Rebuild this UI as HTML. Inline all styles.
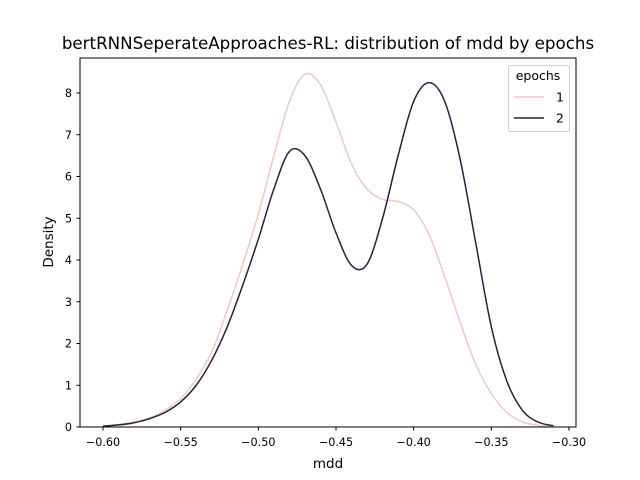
<!DOCTYPE html>
<html><head><meta charset="utf-8"><style>body{margin:0;background:#fff}svg{display:block;font-family:"DejaVu Sans","Liberation Sans",sans-serif}</style></head>
<body>
<svg id="chart" width="640" height="480">
<rect x="0" y="0" width="640" height="480" fill="#fff"/>
<text x="328" y="49" font-size="16.7" text-anchor="middle">bertRNNSeperateApproaches-RL: distribution of mdd by epochs</text>
<g id="ticks"></g>
<g id="series"></g>
<rect x="80" y="58" width="496" height="369" fill="none" stroke="#000" stroke-width="1"/>
<text x="328" y="468" font-size="13.5" text-anchor="middle">mdd</text>
<text x="0" y="0" font-size="13.5" text-anchor="middle" transform="translate(53,242) rotate(-90)">Density</text>
<g>
<rect x="508.5" y="65.5" width="61" height="66" rx="2" fill="#fff" fill-opacity="0.8" stroke="#ccc"/>
<text x="538" y="80" font-size="12.5" text-anchor="middle">epochs</text>
<line x1="514" y1="97" x2="544" y2="97" stroke="#ebcac6" stroke-width="1.5"/>
<text x="556" y="101.5" font-size="12.5">1</text>
<line x1="514" y1="118" x2="544" y2="118" stroke="#2d1e3e" stroke-width="1.5"/>
<text x="556" y="122.5" font-size="12.5">2</text>
</g>
</svg>
<script>
const xTicks = [-0.60,-0.55,-0.50,-0.45,-0.40,-0.35,-0.30];
const xTickLabels = ["−0.60","−0.55","−0.50","−0.45","−0.40","−0.35","−0.30"];
const yTicks = [0,1,2,3,4,5,6,7,8];
const xs1 = [-0.60,-0.59,-0.58,-0.57,-0.56,-0.55,-0.54,-0.53,-0.52,-0.51,-0.50,-0.49,-0.48,-0.47,-0.46,-0.45,-0.44,-0.43,-0.42,-0.41,-0.40,-0.39,-0.38,-0.37,-0.36,-0.35,-0.34,-0.33,-0.32,-0.31];
const ys1 = [0.02,0.06,0.12,0.22,0.4,0.68,1.15,1.8,2.8,3.9,5.1,6.5,7.8,8.45,8.2,7.3,6.3,5.7,5.45,5.4,5.2,4.6,3.6,2.5,1.5,0.8,0.35,0.12,0.04,0.01];
const xs2 = [-0.60,-0.59,-0.58,-0.57,-0.56,-0.55,-0.54,-0.53,-0.52,-0.51,-0.50,-0.49,-0.48,-0.47,-0.46,-0.45,-0.44,-0.43,-0.42,-0.41,-0.40,-0.39,-0.38,-0.37,-0.36,-0.35,-0.34,-0.33,-0.32,-0.31];
const ys2 = [0.02,0.05,0.1,0.2,0.35,0.6,1.0,1.6,2.4,3.4,4.5,5.7,6.6,6.5,5.7,4.65,3.87,3.9,5.0,6.5,7.8,8.25,7.8,6.4,4.4,2.4,1.1,0.4,0.12,0.03];
const NS='http://www.w3.org/2000/svg';
function sx(v){return 103+(v+0.60)*(466/0.30);}
function sy(v){return 427-v*(334/8);}
const tg=document.getElementById('ticks');
xTicks.forEach((t,i)=>{
  const l=document.createElementNS(NS,'line');
  l.setAttribute('x1',sx(t));l.setAttribute('x2',sx(t));l.setAttribute('y1',427);l.setAttribute('y2',430.5);l.setAttribute('stroke','#000');
  
  
  tg.appendChild(l);
  const tx=document.createElementNS(NS,'text');
  tx.setAttribute('x',sx(t));tx.setAttribute('y',446);tx.setAttribute('font-size','11.2');tx.setAttribute('text-anchor','middle');
  tx.textContent=xTickLabels[i];
  
  
  tg.appendChild(tx);
});
yTicks.forEach(t=>{
  const l=document.createElementNS(NS,'line');
  l.setAttribute('x1',76.5);l.setAttribute('x2',80);l.setAttribute('y1',sy(t));l.setAttribute('y2',sy(t));l.setAttribute('stroke','#000');
  
  
  tg.appendChild(l);
  const tx=document.createElementNS(NS,'text');
  tx.setAttribute('x',72);tx.setAttribute('y',sy(t)+4);tx.setAttribute('font-size','11.2');tx.setAttribute('text-anchor','end');
  tx.textContent=String(t);
  
  
  tg.appendChild(tx);
});
function pathFor(xs,ys){
  const p=xs.map((x,i)=>[sx(x),sy(ys[i])]);
  let d='M'+p[0][0]+','+p[0][1];
  for(let i=0;i<p.length-1;i++){
    const p0=p[Math.max(0,i-1)],p1=p[i],p2=p[i+1],p3=p[Math.min(p.length-1,i+2)];
    const c1=[p1[0]+(p2[0]-p0[0])/6,p1[1]+(p2[1]-p0[1])/6];
    const c2=[p2[0]-(p3[0]-p1[0])/6,p2[1]-(p3[1]-p1[1])/6];
    d+=' C'+c1[0]+','+c1[1]+' '+c2[0]+','+c2[1]+' '+p2[0]+','+p2[1];
  }
  return d;
}
const sg=document.getElementById('series');
const p1=document.createElementNS(NS,'path');
p1.setAttribute('d',pathFor(xs1,ys1));p1.setAttribute('fill','none');p1.setAttribute('stroke','#ebcac6');p1.setAttribute('stroke-width','1.5');


sg.appendChild(p1);
const p2=document.createElementNS(NS,'path');
p2.setAttribute('d',pathFor(xs2,ys2));p2.setAttribute('fill','none');p2.setAttribute('stroke','#2d1e3e');p2.setAttribute('stroke-width','1.5');


sg.appendChild(p2);
</script>
</body></html>
